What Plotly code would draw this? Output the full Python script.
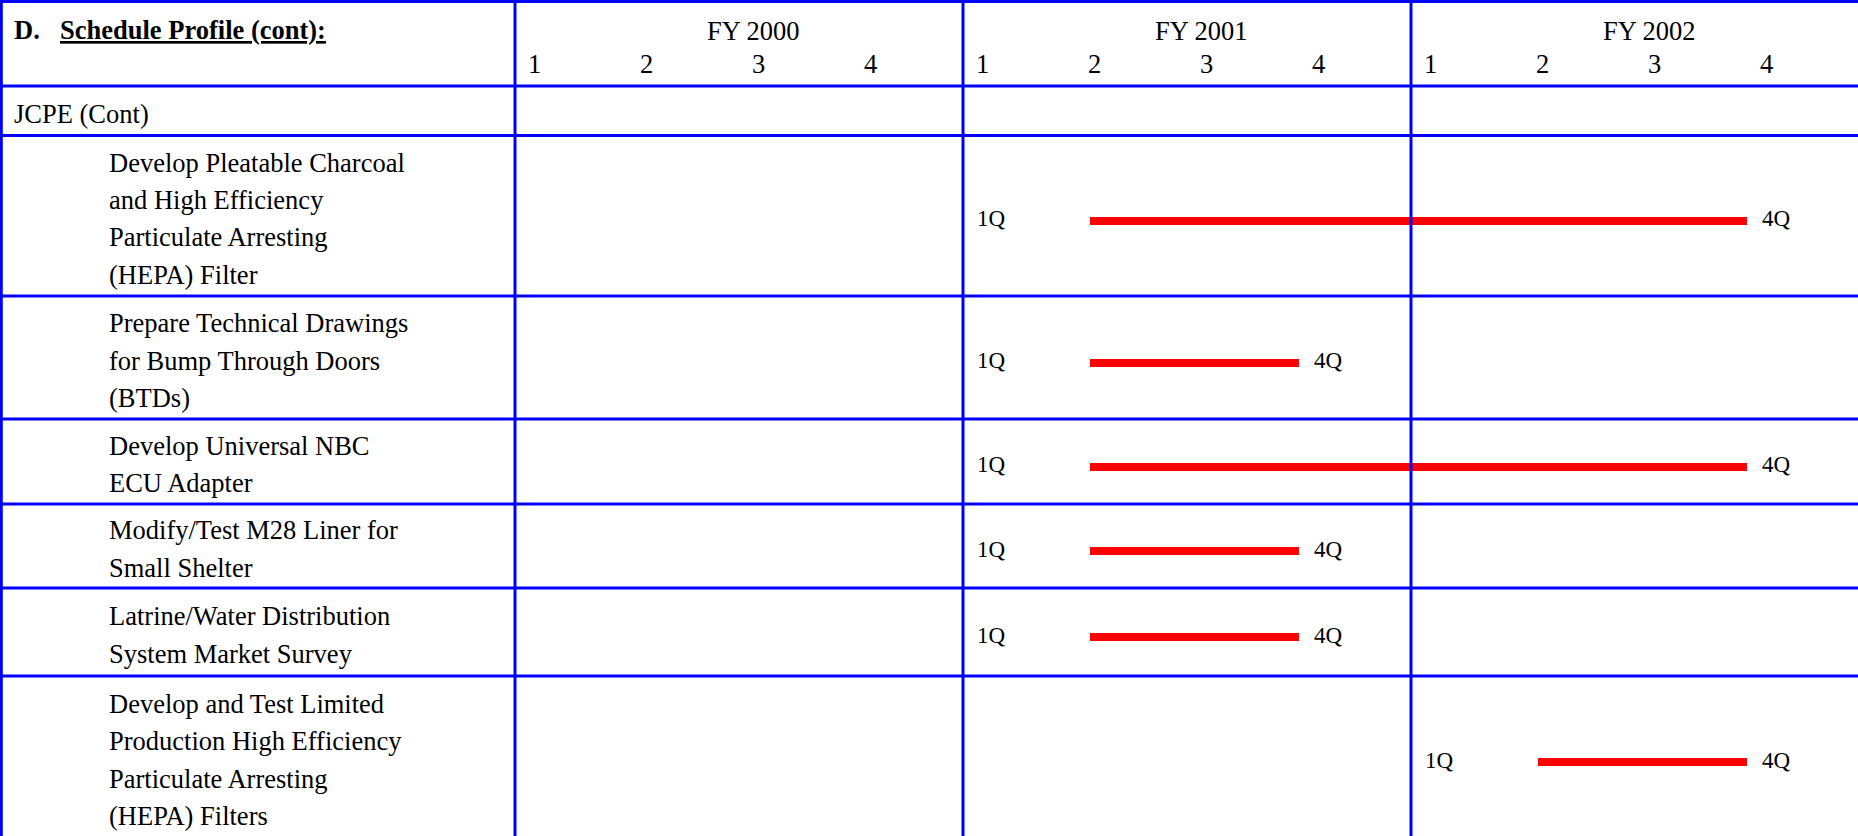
import plotly.graph_objects as go

# ---------------- data ----------------
years = ["FY 2000", "FY 2001", "FY 2002"]
quarters = ["1", "2", "3", "4"]

section_title = "D."
section_heading = "Schedule Profile (cont):"
group_label = "JCPE (Cont)"

task_lines = [
    ["Develop Pleatable Charcoal", "and High Efficiency", "Particulate Arresting", "(HEPA) Filter"],
    ["Prepare Technical Drawings", "for Bump Through Doors", "(BTDs)"],
    ["Develop Universal NBC", "ECU Adapter"],
    ["Modify/Test M28 Liner for", "Small Shelter"],
    ["Latrine/Water Distribution", "System Market Survey"],
    ["Develop and Test Limited", "Production High Efficiency", "Particulate Arresting", "(HEPA) Filters"],
]
start_year = ["FY 2001", "FY 2001", "FY 2001", "FY 2001", "FY 2001", "FY 2002"]
start_q = [1, 1, 1, 1, 1, 1]
end_year = ["FY 2002", "FY 2001", "FY 2002", "FY 2001", "FY 2001", "FY 2002"]
end_q = [4, 4, 4, 4, 4, 4]
start_labels = ["1Q", "1Q", "1Q", "1Q", "1Q", "1Q"]
end_labels = ["4Q", "4Q", "4Q", "4Q", "4Q", "4Q"]

# ---------------- layout constants ----------------
W, H = 1858, 836
LEFT_COL_PX = 515
Q_PX = 112
ROW_EDGES = [1.5, 86, 135.5, 296, 419, 504, 588, 676, 838]
BLUE = "#0000FF"
RED = "#FF0000"
FONT = "Liberation Serif, Times New Roman, serif"
FS = 26.5
LINE_H = 37.2
TXT_OFF = 0.094
LBL_OFF = 0.107
BAR_OFF = 0.134


def qidx(y, q):
    return years.index(y) * 4 + (q - 1)


fig = go.Figure()

# bars
for i in range(len(task_lines)):
    s = qidx(start_year[i], start_q[i]) + 1 + BAR_OFF
    e = qidx(end_year[i], end_q[i])
    yc = (ROW_EDGES[i + 2] + ROW_EDGES[i + 3]) / 2 + 5
    fig.add_trace(go.Bar(
        x=[e - s], base=[s], y=[yc], orientation="h", width=8,
        marker=dict(color=RED, line=dict(width=0)), showlegend=False,
        hoverinfo="skip",
    ))

ann = []
font = dict(family=FONT, size=FS, color="black")
# header
ann.append(dict(x=12, y=29.5, xref="x2", yref="y", text="<b>" + section_title + "</b>",
                xanchor="left", yanchor="middle", showarrow=False, font=font))
ann.append(dict(x=58, y=29.5, xref="x2", yref="y", text="<b><u>" + section_heading + "</u></b>",
                xanchor="left", yanchor="middle", showarrow=False, font=font))
for yi, yr in enumerate(years):
    ann.append(dict(x=yi * 4 + 2 + 0.125, y=31, xref="x", yref="y", text=yr,
                    xanchor="center", yanchor="middle", showarrow=False, font=font))
    for qi, ql in enumerate(quarters):
        ann.append(dict(x=yi * 4 + qi + TXT_OFF, y=64, xref="x", yref="y", text=ql,
                        xanchor="left", yanchor="middle", showarrow=False, font=font))
ann.append(dict(x=12, y=114, xref="x2", yref="y", text=group_label,
                xanchor="left", yanchor="middle", showarrow=False, font=font))

small = dict(family=FONT, size=23, color="black")
for i, lines in enumerate(task_lines):
    yc = (ROW_EDGES[i + 2] + ROW_EDGES[i + 3]) / 2 + 3
    n = len(lines)
    for k, ln in enumerate(lines):
        ann.append(dict(x=107, y=yc + (k - (n - 1) / 2) * LINE_H, xref="x2", yref="y",
                        text=ln, xanchor="left", yanchor="middle", showarrow=False, font=font))
    ann.append(dict(x=qidx(start_year[i], start_q[i]) + LBL_OFF, y=yc, xref="x", yref="y",
                    text=start_labels[i], xanchor="left", yanchor="middle", showarrow=False,
                    font=small))
    ann.append(dict(x=qidx(end_year[i], end_q[i]) + 0.12, y=yc, xref="x", yref="y",
                    text=end_labels[i], xanchor="left", yanchor="middle", showarrow=False,
                    font=small))

shapes = []
for ye in ROW_EDGES[:-1]:
    shapes.append(dict(type="line", xref="paper", yref="y", x0=0, x1=1, y0=ye, y1=ye,
                       line=dict(color=BLUE, width=3)))
shapes.append(dict(type="line", xref="x2", yref="y", x0=1.3, x1=1.3, y0=0, y1=H,
                   line=dict(color=BLUE, width=3)))
for yi in range(len(years)):
    shapes.append(dict(type="line", xref="x", yref="y", x0=yi * 4, x1=yi * 4, y0=1.5, y1=H,
                       line=dict(color=BLUE, width=3)))

x_lo = -LEFT_COL_PX / Q_PX
x_hi = (W - LEFT_COL_PX) / Q_PX
fig.update_layout(
    width=W, height=H, margin=dict(l=0, r=0, t=0, b=0),
    paper_bgcolor="white", plot_bgcolor="white",
    barmode="overlay", bargap=0,
    xaxis=dict(range=[x_lo, x_hi], visible=False, fixedrange=True),
    xaxis2=dict(range=[0, W], visible=False, overlaying="x", fixedrange=True),
    yaxis=dict(range=[H, 0], visible=False, fixedrange=True),
    annotations=ann, shapes=shapes, showlegend=False,
)
fig.write_html(
    "out.html",
    config={"displayModeBar": False},
    post_script="document.body.style.margin='0';document.body.style.overflow='hidden';",
)
